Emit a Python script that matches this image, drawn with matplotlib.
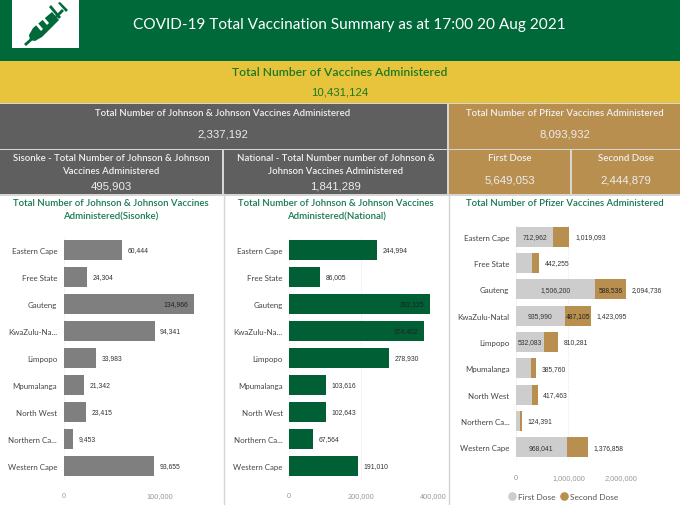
#!/usr/bin/env python3
# -*- coding: utf-8 -*-
import matplotlib
matplotlib.use('Agg')
import matplotlib.pyplot as plt
from matplotlib.lines import Line2D
from matplotlib.patches import Rectangle, Polygon

plt.rcParams['font.family'] = ['Lato', 'DejaVu Sans']

W, H = 680, 506  # figure size in pixels

provinces = ['Eastern Cape', 'Free State', 'Gauteng', 'KwaZulu-Na...', 'Limpopo',
             'Mpumalanga', 'North West', 'Northern Ca...', 'Western Cape']
provinces_pfizer = ['Eastern Cape', 'Free State', 'Gauteng', 'KwaZulu-Natal', 'Limpopo',
                    'Mpumalanga', 'North West', 'Northern Ca...', 'Western Cape']

sisonke = [60444, 24304, 134966, 94341, 33983, 21342, 23415, 9453, 93655]
national = [244994, 86005, 392125, 374402, 278930, 103616, 102643, 67564, 191010]

first_dose = [712962, 300000, 1506200, 935990, 532083, 284000, 300000, 80000, 968041]
second_dose = [306131, 142255, 588536, 487105, 278198, 101760, 117463, 44391, 408817]
pfizer_total = [1019093, 442255, 2094736, 1423095, 810281, 385760, 417463, 124391, 1376858]
# first dose labels that are hidden in the original (bar too small)
first_hidden = [False, True, False, False, False, True, True, True, False]

sisonke_ticks = [0, 100000]
national_ticks = [0, 200000, 400000]
pfizer_ticks = [0, 1000000, 2000000]

GREEN = '#00693a'
BARGREEN = '#005f35'
YELLOW = '#e8c33c'
GREY = '#5f5f5f'
GOLD = '#b98f50'
BARGREY = '#7f7f7f'
LIGHT = '#cdcdcd'
TITLE = '#15784f'
NUMFONT = 'Liberation Sans'

fig = plt.figure(figsize=(W/100, H/100), dpi=100, facecolor='white')

#overlay in pixel coordinates for the banners
bg = fig.add_axes([0, 0, 1, 1])
bg.set_xlim(0, W)
bg.set_ylim(H, 0)
bg.axis('off')

def box(x0, y0, x1, y1, color):
    bg.add_patch(Rectangle((x0, y0), x1-x0, y1-y0, fc=color, ec='none'))

box(0, 0, W, 62, GREEN)
box(0, 62, W, 103.5, YELLOW)
box(0, 103.5, W, 197, '#d6d6d6')
box(0, 105, 447, 150, GREY)
box(449, 105, W, 150, GOLD)
box(0, 151, 222, 195, GREY)
box(224, 151, 447, 195, GREY)
box(449, 151, 570, 195, GOLD)
box(572, 151, W, 195, GOLD)
bg.plot([223.5, 223.5], [195, H], color='#d4d4d4', lw=1)
bg.plot([448.5, 448.5], [195, H], color='#d4d4d4', lw=1)

#syringe icon
box(12, 1, 79, 49, 'white')
syringe = [
    [(24, 45), (33, 37), (35, 39), (26, 47)],
    [(29, 36), (33, 29), (52, 13), (59, 21), (42, 38), (35, 42), (30, 41)],
    [(49, 8), (51, 6), (61, 18), (59, 20)],
    [(55, 17), (62, 10), (64, 12), (57, 19)],
    [(58, 4), (60, 3), (68, 11), (66, 13)],
]
for pts in syringe:
    bg.add_patch(Polygon(pts, closed=True, fc=GREEN, ec='none'))
for pts in [[(35, 25), (37, 23), (43, 30), (41, 32)],
            [(41, 19), (43, 17), (49, 24), (47, 26)]]:
    bg.add_patch(Polygon(pts, closed=True, fc='white', ec='none'))

bg.text(349.5, 24.5, 'COVID-19 Total Vaccination Summary as at 17:00 20 Aug 2021', color='white',
        fontsize=11.1, ha='center', va='center')
bg.text(340, 72, 'Total Number of Vaccines Administered', color='#1b7a22', fontsize=8.7,
        fontweight='semibold', ha='center', va='center')
bg.text(340, 92, '10,431,124', color='#1b7a22', fontsize=8.2, ha='center', va='center',
        family=NUMFONT)

def banner(x, y, s, size=6.95):
    bg.text(x, y, s, color='#f0f0f0', fontsize=size, ha='center', va='center', fontweight='semibold')

def number(x, y, s):
    bg.text(x, y, s, color='#ececec', fontsize=8.2, ha='center', va='center', family=NUMFONT)

banner(223, 113, 'Total Number of Johnson & Johnson Vaccines Administered')
number(223, 134.5, '2,337,192')
banner(565, 113, 'Total Number of Pfizer Vaccines Administered')
number(565, 134.5, '8,093,932')
banner(111, 158, 'Sisonke - Total Number of Johnson & Johnson')
banner(111, 171, 'Vaccines Administered')
number(111, 186, '495,903')
banner(336, 158, 'National - Total Number number of Johnson &')
banner(336, 171, 'Johnson Vaccines Administered')
number(336, 186, '1,841,289')
banner(510, 158, 'First Dose')
number(510, 180, '5,649,053')
banner(626, 158, 'Second Dose')
number(626, 180, '2,444,879')

for x, y, s in [(111, 204, 'Total Number of Johnson & Johnson Vaccines'),
                (111, 217, 'Administered(Sisonke)'),
                (336, 204, 'Total Number of Johnson & Johnson Vaccines'),
                (336, 217, 'Administered(National)'),
                (565, 204, 'Total Number of Pfizer Vaccines Administered')]:
    bg.text(x, y, s, color=TITLE, fontsize=6.9, fontweight='semibold', ha='center', va='center')


def make_axes(x0, x1, y0, y1, xmax, labels, ticks, tick_y):
    #x0,x1,y0,y1 in pixels, x1 is the position of xmax
    ax = fig.add_axes([x0/W, 1-y1/H, (x1-x0)/W, (y1-y0)/H])
    ax.patch.set_alpha(0)
    ax.set_xlim(0, xmax)
    ax.set_ylim(len(labels)-0.5, -0.5)
    ax.set_yticks(range(len(labels)))
    ax.set_yticklabels(labels, fontsize=5.7, color='#444444')
    ax.set_xticks(ticks)
    ax.set_xticklabels([f'{t:,}' for t in ticks], fontsize=5.3, color='#999999', family=NUMFONT)
    ax.tick_params(length=0)
    ax.tick_params(axis='y', pad=4.5)
    ax.tick_params(axis='x', pad=tick_y)
    ax.grid(axis='x', color='#e4e4e4', ls=':', lw=0.7)
    ax.set_axisbelow(True)
    for s in ax.spines.values():
        s.set_visible(False)
    return ax


def value_label(ax, x, i, v, inside):
    if inside:
        ax.annotate(f'{v:,}', (x, i), xytext=(-4, 0), textcoords='offset points', ha='right',
                    va='center', fontsize=4.9, color='#222222', annotation_clip=False, family=NUMFONT)
    else:
        ax.annotate(f'{v:,}', (x, i), xytext=(4, 0), textcoords='offset points', ha='left',
                    va='center', fontsize=4.9, color='#333333', annotation_clip=False, family=NUMFONT)


#Sisonke
ax1 = make_axes(63.5, 160, 237.5, 480.5, 100000, provinces, sisonke_ticks, 9)
ax1.barh(range(9), sisonke, height=0.77, color=BARGREY, clip_on=False)
for i, v in enumerate(sisonke):
    value_label(ax1, v, i, v, v == max(sisonke))

#National
ax2 = make_axes(289, 433, 237.5, 480.5, 400000, provinces, national_ticks, 9)
ax2.barh(range(9), national, height=0.77, color=BARGREEN)
for i, v in enumerate(national):
    value_label(ax2, v, i, v, v > 350000)

#Pfizer
ax3 = make_axes(515.7, 621.2, 224.5, 461.5, 2000000, provinces_pfizer, pfizer_ticks, 9.5)
ax3.barh(range(9), first_dose, height=0.77, color=LIGHT, clip_on=False)
ax3.barh(range(9), second_dose, left=first_dose, height=0.77, color=GOLD, clip_on=False)
for i in range(9):
    if not first_hidden[i]:
        ax3.text(first_dose[i]/2, i, f'{first_dose[i]:,}', ha='center', va='center', fontsize=4.9,
                 color='#333333', family=NUMFONT)
    if second_dose[i] > 450000:
        ax3.text(first_dose[i]+second_dose[i]/2, i, f'{second_dose[i]:,}', ha='center', va='center',
                 fontsize=4.9, color='#222222', family=NUMFONT)
    value_label(ax3, pfizer_total[i], i, pfizer_total[i], False)

handles = [Line2D([], [], ls='', marker='o', ms=5.2, color=LIGHT, label='First Dose'),
           Line2D([], [], ls='', marker='o', ms=5.2, color=GOLD, label='Second Dose')]
ax3.legend(handles=handles, loc='center', bbox_to_anchor=((564-515.7)/105.5, -0.15), ncol=2, frameon=False,
           fontsize=6, handlelength=0.6, columnspacing=0.7, handletextpad=0.4, labelcolor='#555555')

fig.savefig('out.png', dpi=100)
